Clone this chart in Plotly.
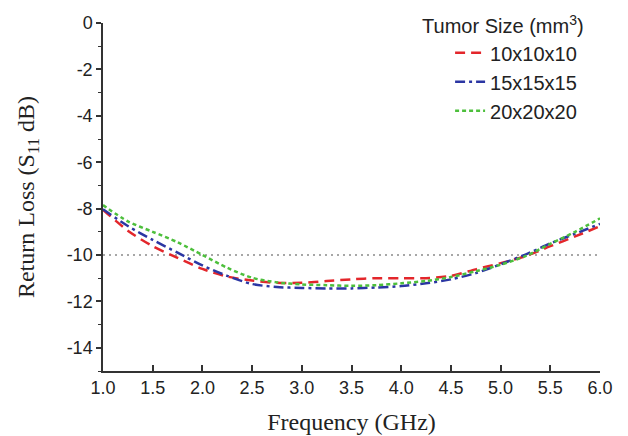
import plotly.graph_objects as go

freq = [1.0, 1.25, 1.5, 1.75, 2.0, 2.25, 2.5, 2.75, 3.0, 3.25, 3.5, 3.75,
        4.0, 4.25, 4.5, 4.75, 5.0, 5.25, 5.5, 5.75, 6.0]
s11_10 = [-8.05, -8.95, -9.62, -10.12, -10.6, -10.93, -11.1, -11.2, -11.2, -11.12,
          -11.05, -11.0, -11.0, -11.0, -10.9, -10.62, -10.35, -10.05, -9.62, -9.2, -8.76]
s11_15 = [-8.03, -8.75, -9.35, -9.9, -10.45, -10.9, -11.25, -11.38, -11.42, -11.44,
          -11.44, -11.4, -11.34, -11.22, -11.05, -10.78, -10.4, -9.98, -9.5, -9.08, -8.66]
s11_20 = [-7.85, -8.55, -9.0, -9.45, -10.0, -10.55, -10.98, -11.18, -11.27, -11.3,
          -11.33, -11.3, -11.22, -11.12, -10.95, -10.7, -10.42, -10.05, -9.52, -9.0, -8.42]
series_names = ["10x10x10", "15x15x15", "20x20x20"]
threshold = -10

x_ticks = [1.0, 1.5, 2.0, 2.5, 3.0, 3.5, 4.0, 4.5, 5.0, 5.5, 6.0]
x_ticktext = ["1.0", "1.5", "2.0", "2.5", "3.0", "3.5", "4.0", "4.5", "5.0", "5.5", "6.0"]
y_ticks = [0, -2, -4, -6, -8, -10, -12, -14]
y_ticktext = ["0", "-2", "-4", "-6", "-8", "-10", "-12", "-14"]

colors = ["#e3262b", "#2b36a3", "#4dbf3c"]
dashes = ["10px,6px", "10px,4px,3px,4px", "4px,3px"]

fig = go.Figure()
for name, ys, c, d in zip(series_names, [s11_10, s11_15, s11_20], colors, dashes):
    fig.add_trace(go.Scatter(x=freq, y=ys, mode="lines", name=name,
                             line=dict(color=c, width=2.5, dash=d, shape="spline", smoothing=0.8)))

fig.add_shape(type="line", xref="x", yref="y", x0=1.0, x1=6.0, y0=threshold, y1=threshold,
              line=dict(color="#8a8a8a", width=1.5, dash="2px,4px"), layer="below")

tick_font = dict(family="Liberation Sans, Arial, sans-serif", size=18, color="#222")
title_font = dict(family="Liberation Serif, Times New Roman, serif", size=24, color="#222")
legend_font = dict(family="Liberation Sans, Arial, sans-serif", size=20, color="#222")

fig.update_layout(
    width=628, height=436,
    margin=dict(l=103, r=28, t=23, b=65, autoexpand=False),
    paper_bgcolor="white", plot_bgcolor="white",
    showlegend=True,
    legend=dict(
        title=dict(text="Tumor Size (mm<sup>3</sup>)", font=legend_font),
        font=legend_font,
        x=0.638, xanchor="left", y=1.045, yanchor="top",
        bgcolor="rgba(0,0,0,0)", borderwidth=0, indentation=30,
        tracegroupgap=0,
    ),
    xaxis=dict(
        range=[1.0, 6.0], tickvals=x_ticks, ticktext=x_ticktext,
        ticks="inside", ticklen=6, tickwidth=1.5, tickcolor="#333",
        showline=True, linecolor="#333", linewidth=1.5, automargin=False,
        showgrid=False, zeroline=False, tickfont=tick_font,
        title=dict(text="Frequency (GHz)", font=title_font, standoff=16),
    ),
    yaxis=dict(
        range=[-15, 0], tickvals=y_ticks, ticktext=y_ticktext,
        ticks="outside", ticklen=5, tickwidth=1.5, tickcolor="#333",
        minor=dict(dtick=1, tick0=0, ticks="outside", ticklen=3, tickwidth=1.2, tickcolor="#333"),
        showline=True, linecolor="#333", linewidth=1.5, automargin=False,
        showgrid=False, zeroline=False, tickfont=tick_font,
        title=dict(text="Return Loss (S<sub>11</sub> dB)", font=title_font, standoff=25),
    ),
)

fig.write_html("out.html", config={"displayModeBar": False},
               post_script="document.body.style.margin='0';document.body.style.padding='0';")
